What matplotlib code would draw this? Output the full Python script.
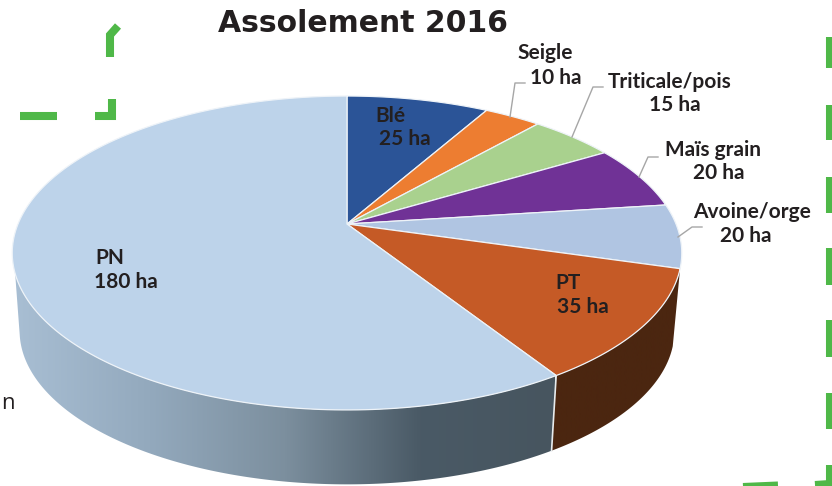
import numpy as np
import matplotlib
matplotlib.use("Agg")
import matplotlib.pyplot as plt
from matplotlib.patches import Polygon
from matplotlib.colors import LinearSegmentedColormap

title = "Assolement 2016"
categories = ["Blé", "Seigle", "Triticale/pois", "Maïs grain", "Avoine/orge", "PT", "PN"]
hectares = [25, 10, 15, 20, 20, 35, 180]
colors = ["#2b5497", "#ed7d31", "#a9d18e", "#703296", "#b0c5e2", "#c55a26", "#bdd3ea"]
name_xy = [(390, 116), (545, 53), (670, 82), (713, 150), (752, 212), (568, 283), (110, 258)]
value_xy = [(405, 139), (556, 78), (675, 105), (719, 173), (746, 236), (583, 307), (126, 282)]

CX, CY, A, B, C = 347, 224, 329, 151.6, 0.1847
DEPTH, SHRINK = 75, 0.978

def rim(deg, bottom=False):
    t = np.radians(np.asarray(deg, float))
    u, v = np.sin(t), np.cos(t)
    w = 1 + C * v
    x, y = A * u / w, -B * v / w
    if bottom:
        x = x * SHRINK
        y = y * SHRINK + DEPTH + 3.5
    return np.column_stack([CX + x, CY + y])

fig = plt.figure(figsize=(8.32, 4.86), dpi=100)
ax = fig.add_axes([0, 0, 1, 1])
ax.set_xlim(0, 832)
ax.set_ylim(486, 0)
ax.axis("off")

edges = np.concatenate([[0], np.cumsum(hectares)]) / sum(hectares) * 360

def side(a0, a1, a1_bottom, stops, x0, x1):
    top = rim(np.linspace(a0, a1, 160))
    bot = rim(np.linspace(a1_bottom, a0, 160), True)
    poly = Polygon(np.vstack([top, bot]), closed=True, fc="none", ec="none")
    ax.add_patch(poly)
    cmap = LinearSegmentedColormap.from_list("s", stops)
    im = ax.imshow(np.linspace(0, 1, 256)[None, :], cmap=cmap, extent=(x0, x1, 486, 0),
                   aspect="auto", zorder=1)
    im.set_clip_path(poly)

side(edges[6], 252, 258, ["#a8bed3", "#93a9bd", "#7c8f9e", "#4a5a66", "#47555f"], 15, 555)
side(edges[5], edges[6], edges[6], ["#4b2610", "#4b2610"], 540, 690)

p6 = rim(edges[6]); b6 = rim(edges[6], True)
ax.plot([p6[0, 0], b6[0, 0]], [p6[0, 1], b6[0, 1]], color="#e8ecee", lw=1.2, zorder=2)

for i, col in enumerate(colors):
    th = np.linspace(edges[i], edges[i + 1], 200)
    pts = np.vstack([[CX, CY], rim(th)])
    ax.add_patch(Polygon(pts, closed=True, fc=col, ec="#eef3f8", lw=0.9, zorder=3))

for name, val, nxy, vxy in zip(categories, hectares, name_xy, value_xy):
    for s, (x, y) in ((name, nxy), (f"{val} ha", vxy)):
        ax.text(x, y, s, ha="center", va="center", family="Lato",
                fontweight="bold", fontsize=15, color="#231f20", zorder=5)

leaders = [[(510, 117), (515, 83), (525, 83)],
           [(572, 137), (593, 87), (603, 87)],
           [(639, 177), (648, 157), (658, 157)],
           [(678, 237), (692, 227), (702, 227)]]
for l in leaders:
    ax.plot(*zip(*l), color="#a6a6a6", lw=1, zorder=4)

ax.text(363, 23, title, ha="center", va="center", family="DejaVu Sans",
        fontweight="bold", fontsize=21.5, color="#231f20")
ax.text(1, 403, "n", ha="left", va="center", family="Open Sans", fontsize=16, color="#231f20")

green = "#4fb848"
dashes = [[(118, 26), (110, 35), (110, 57)],
          [(20, 116), (57, 116)],
          [(95, 116), (112, 116), (112, 99)],
          [(830, 37), (830, 68)], [(830, 105), (830, 140)], [(830, 177), (830, 213)],
          [(830, 248), (830, 285)], [(830, 320), (830, 357)], [(830, 393), (830, 429)],
          [(830, 465), (830, 484), (815, 485)],
          [(743, 487), (778, 485.5)]]
for d in dashes:
    ax.plot(*zip(*d), color=green, lw=5.8, solid_capstyle="butt", solid_joinstyle="miter", zorder=2)

fig.savefig("out.png", dpi=100)
